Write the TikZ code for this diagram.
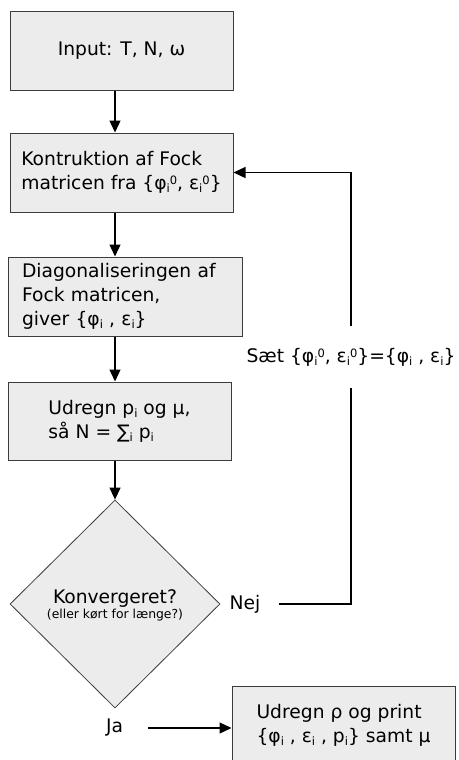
\documentclass[tikz,border=0pt]{standalone}
\usepackage{fontspec}
\setmainfont{DejaVu Sans}
\usetikzlibrary{shapes.geometric,arrows.meta}
\definecolor{boxfill}{RGB}{236,236,236}
\definecolor{boxline}{RGB}{60,60,60}
\newcommand{\sbi}[1]{\raisebox{-3pt}{\fontsize{11.5}{11.5}\selectfont #1}}
\newcommand{\spo}[1]{\raisebox{5pt}{\fontsize{11.5}{11.5}\selectfont #1}}
\begin{document}
\begin{tikzpicture}[x=1pt,y=-1pt,font=\fontsize{18.7}{24}\selectfont,
  box/.style={draw=boxline,fill=boxfill,line width=1pt,align=left,inner sep=0pt},
  arr/.style={-{Triangle[width=11pt,length=12pt]},line width=1.3pt},
  conn/.style={line width=1.3pt}]
\useasboundingbox (0,0) rectangle (458,760);
\clip (0,0) rectangle (458,760);
\node[box,minimum width=223pt,minimum height=78pt] (inp) at (121.5,51) {Input: T, N, ω};
\node[box,minimum width=223pt,minimum height=79pt] (fock) at (121.5,172.5)
  {Kontruktion af Fock\\matricen fra \{φ\sbi{i}\spo{0}, ε\sbi{i}\spo{0}\}};
\node[box,minimum width=234pt,minimum height=79pt,inner xsep=14pt,text width=206pt] (diag) at (125,296.5)
  {Diagonaliseringen af\\Fock matricen,\\giver \{φ\sbi{i} , ε\sbi{i}\}};
\node[box,minimum width=223pt,minimum height=78pt] (udr) at (119.5,421)
  {Udregn p\sbi{i} og μ,\\så N = ∑\sbi{i} p\sbi{i}};
\node[diamond,draw=boxline,fill=boxfill,line width=0.8pt,minimum width=210pt,minimum height=208pt,inner sep=0pt] (konv) at (115,604) {};
\node[align=center,inner sep=0pt] (konvtxt) at (115,605)
  {Konvergeret?\\[-9pt]{\fontsize{12.4}{14}\selectfont (eller kørt for længe?)}};
\node[inner xsep=18pt,inner ysep=0pt] (nej) at (245,604) {Nej};
\node[minimum height=61pt,inner sep=0pt] (saet) at (351,357)
  {Sæt \{φ\sbi{i}\spo{0}, ε\sbi{i}\spo{0}\}=\{φ\sbi{i} , ε\sbi{i}\}};
\node[inner xsep=25pt,inner ysep=0pt] (ja) at (114.5,728) {Ja};
\node[box,minimum width=223pt,minimum height=78pt] (res) at (343.5,725)
  {Udregn ρ og print\\\{φ\sbi{i} , ε\sbi{i} , p\sbi{i}\} samt μ};
\draw[arr] (inp.south -| konv.north) -- (fock.north -| konv.north);
\draw[arr] (fock.south -| konv.north) -- (diag.north -| konv.north);
\draw[arr] (diag.south -| konv.north) -- (udr.north -| konv.north);
\draw[arr] (udr.south -| konv.north) -- (konv.north);
\draw[conn] (nej.east) -| (saet.south);
\draw[arr] (saet.north) |- (fock.east);
\draw[arr] (ja.east) -- (ja.east -| res.west);
\end{tikzpicture}
\end{document}
